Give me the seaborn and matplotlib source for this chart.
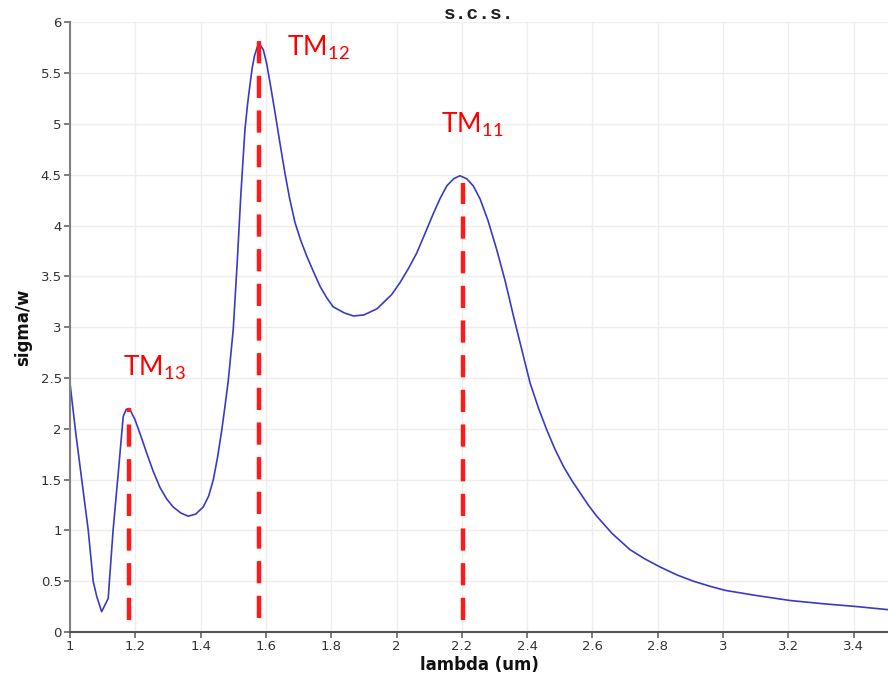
import matplotlib
matplotlib.use("Agg")
import matplotlib.pyplot as plt
import seaborn as sns
import pandas as pd

# ---- data ----
lam = [1.000, 1.018, 1.036, 1.056, 1.071, 1.082, 1.097, 1.117, 1.132, 1.148,
       1.163, 1.172, 1.182, 1.199, 1.218, 1.235, 1.255, 1.276, 1.296, 1.316,
       1.340, 1.362, 1.385, 1.408, 1.425, 1.439, 1.452, 1.465, 1.475, 1.485,
       1.500, 1.512, 1.523, 1.530, 1.536, 1.544, 1.551, 1.558, 1.565, 1.574,
       1.582, 1.592, 1.602, 1.615, 1.628, 1.643, 1.658, 1.673, 1.689, 1.707,
       1.725, 1.745, 1.766, 1.786, 1.806, 1.840, 1.868, 1.900, 1.940, 1.985,
       2.011, 2.037, 2.062, 2.087, 2.113, 2.134, 2.154, 2.175, 2.194, 2.215,
       2.235, 2.256, 2.280, 2.307, 2.333, 2.358, 2.385, 2.409, 2.435, 2.460,
       2.485, 2.511, 2.537, 2.562, 2.587, 2.613, 2.660, 2.715, 2.760, 2.807,
       2.860, 2.909, 2.960, 3.006, 3.100, 3.205, 3.300, 3.410, 3.505]
sigma = [2.45, 1.95, 1.50, 1.00, 0.50, 0.35, 0.20, 0.33, 1.00, 1.57,
         2.12, 2.19, 2.20, 2.09, 1.92, 1.76, 1.58, 1.42, 1.31, 1.23,
         1.17, 1.14, 1.16, 1.23, 1.34, 1.50, 1.72, 1.99, 2.23, 2.48,
         2.98, 3.63, 4.29, 4.65, 4.95, 5.20, 5.38, 5.55, 5.67, 5.76,
         5.78, 5.73, 5.60, 5.36, 5.11, 4.81, 4.52, 4.26, 4.03, 3.85,
         3.70, 3.55, 3.40, 3.29, 3.20, 3.14, 3.11, 3.12, 3.18, 3.32,
         3.44, 3.58, 3.73, 3.92, 4.12, 4.27, 4.39, 4.46, 4.49, 4.46,
         4.39, 4.26, 4.05, 3.76, 3.45, 3.11, 2.76, 2.45, 2.20, 1.99,
         1.80, 1.63, 1.49, 1.37, 1.25, 1.14, 0.97, 0.81, 0.72, 0.64,
         0.56, 0.50, 0.45, 0.41, 0.36, 0.31, 0.28, 0.25, 0.22]

mode_x = [1.18, 1.579, 2.204]
mode_bottom = [0.12, 0.14, 0.12]
mode_top = [2.20, 5.85, 4.42]
mode_names = ["13", "12", "11"]
label_x = [1.162, 1.665, 2.136]
label_y = [2.52, 5.67, 4.92]

xticks = [1, 1.2, 1.4, 1.6, 1.8, 2, 2.2, 2.4, 2.6, 2.8, 3, 3.2, 3.4]
xtick_labels = ["1", "1.2", "1.4", "1.6", "1.8", "2", "2.2", "2.4", "2.6", "2.8", "3", "3.2", "3.4"]
yticks = [0, 0.5, 1, 1.5, 2, 2.5, 3, 3.5, 4, 4.5, 5, 5.5, 6]
ytick_labels = ["0", "0.5", "1", "1.5", "2", "2.5", "3", "3.5", "4", "4.5", "5", "5.5", "6"]

df = pd.DataFrame({"lambda": lam, "sigma": sigma})

sns.set_theme(style="whitegrid")
plt.rcParams["font.family"] = ["DejaVu Sans"]
plt.rcParams["mathtext.fontset"] = "custom"
plt.rcParams["mathtext.rm"] = "Lato"

fig = plt.figure(figsize=(8.88, 6.75), dpi=100)
ax = fig.add_axes([0.0788, 0.0637, 0.9212, 0.9033])

sns.lineplot(data=df, x="lambda", y="sigma", ax=ax, color="#3a3ac8",
             linewidth=1.2, sort=False)

ax.vlines(mode_x, mode_bottom, mode_top, colors="#ff1a1a", linewidth=3.2,
          linestyles=(0, (5, 2.8)))

for lx, ly, nm in zip(label_x, label_y, mode_names):
    ax.text(lx, ly, "TM$_{\\mathrm{" + nm + "}}$", color="#ff0000",
            fontsize=19, family="Lato", ha="left", va="baseline")

ax.set_xlim(1, 3.505)
ax.set_ylim(0, 6)
ax.set_xticks(xticks)
ax.set_xticklabels(xtick_labels)
ax.set_yticks(yticks)
ax.set_yticklabels(ytick_labels)

ax.grid(True, color="#eeeeee", linewidth=1.0)
for s in ["top", "right"]:
    ax.spines[s].set_visible(False)
ax.spines["left"].set_color("#808080")
ax.spines["left"].set_linewidth(1.5)
ax.spines["bottom"].set_color("#555555")
ax.spines["bottom"].set_linewidth(1.5)
ax.tick_params(axis="both", direction="out", length=4, width=1.2,
               colors="#666666", labelcolor="#333333", labelsize=9.5,
               left=True, bottom=True, pad=2)

ax.set_xlabel("lambda (um)", fontsize=12, fontweight="bold", color="#111111", labelpad=2)
ax.set_ylabel("sigma/w", fontsize=12, fontweight="bold", color="#111111", labelpad=6)

fig.text(0.54, 0.979, "s.c.s.", family="Liberation Mono", fontweight="bold",
         fontsize=14, ha="center", va="center", color="#222222")

fig.savefig("out.png", dpi=100, facecolor="white")
